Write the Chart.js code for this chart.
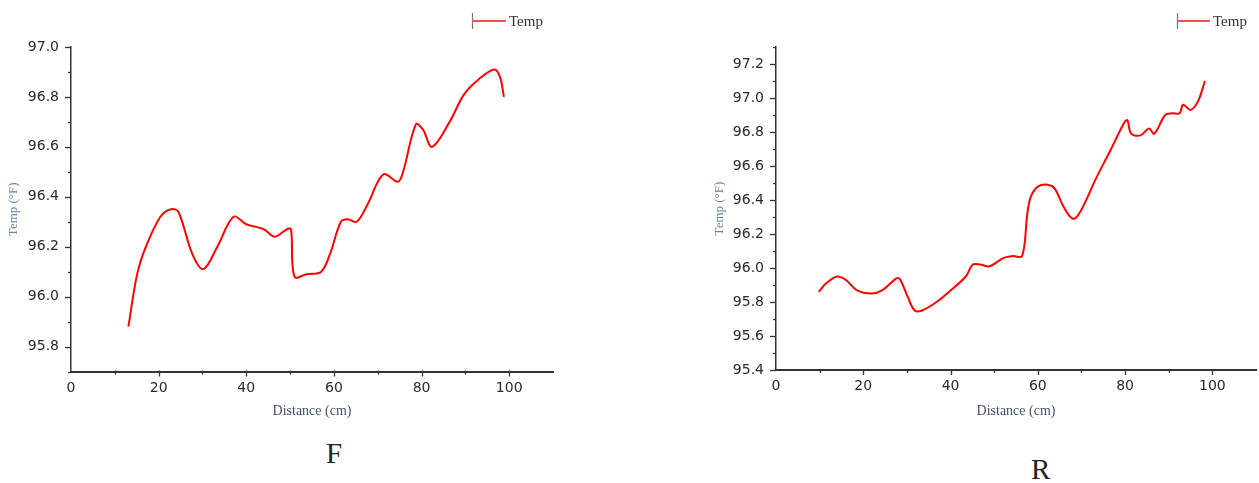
<!DOCTYPE html>
<html>
<head>
<meta charset="utf-8">
<script src="https://cdn.jsdelivr.net/npm/chart.js@4.4.0/dist/chart.umd.min.js"></script>
<style>
  html, body { margin: 0; padding: 0; background: #fff; width: 1259px; height: 483px; overflow: hidden; }
  canvas { position: absolute; top: 0; }
  #chartF { left: 0; width: 600px; height: 430px; }
  #chartR { left: 690px; width: 569px; height: 430px; }
  .panel { position: absolute; font-family: "Liberation Serif", "Times New Roman", serif; font-size: 29px; line-height: 29px; color: #222; }
</style>
</head>
<body>
<canvas id="chartF" width="600" height="430"></canvas>
<canvas id="chartR" width="569" height="430"></canvas>
<div class="panel" style="left:326px; top:439px;">F</div>
<div class="panel" style="left:1031px; top:455px;">R</div>
<script>
// Panel F: temperature along the distance
const fDistance = [13.1, 15.1, 17.1, 20.4, 22.8, 24.5, 27.7, 30.2, 33.4, 37.1, 40.0, 44.0, 46.5, 49.3, 50.2, 51.0, 53.8, 57.1, 59.1, 61.6, 63.2, 65.2, 67.7, 71.3, 74.6, 75.8, 78.7, 80.3, 82.4, 86.4, 89.7, 93.0, 96.6, 97.9, 98.8];
const fTemp     = [95.88, 96.09, 96.20, 96.32, 96.35, 96.34, 96.17, 96.11, 96.20, 96.32, 96.29, 96.27, 96.24, 96.27, 96.27, 96.08, 96.09, 96.10, 96.17, 96.30, 96.31, 96.30, 96.37, 96.49, 96.46, 96.50, 96.69, 96.67, 96.60, 96.70, 96.81, 96.87, 96.91, 96.88, 96.80];

// Panel R: temperature along the distance
const rDistance = [9.8, 11.5, 14.0, 16.0, 18.5, 21.9, 24.4, 27.7, 28.5, 30.2, 31.8, 33.5, 36.8, 40.1, 43.5, 45.1, 46.8, 48.9, 52.2, 54.3, 56.4, 57.6, 58.4, 60.1, 62.2, 63.8, 65.9, 68.0, 69.7, 73.4, 76.8, 79.7, 80.5, 81.4, 83.5, 85.5, 86.7, 89.2, 90.8, 92.5, 93.3, 95.0, 96.7, 98.3];
const rTemp     = [95.86, 95.91, 95.95, 95.93, 95.87, 95.85, 95.87, 95.94, 95.93, 95.83, 95.75, 95.75, 95.80, 95.87, 95.95, 96.02, 96.02, 96.01, 96.06, 96.07, 96.07, 96.32, 96.42, 96.48, 96.49, 96.47, 96.36, 96.29, 96.33, 96.53, 96.70, 96.85, 96.87, 96.79, 96.78, 96.82, 96.79, 96.90, 96.91, 96.91, 96.96, 96.93, 96.98, 97.10];

// Tick labels
const distanceTicks = [0, 20, 40, 60, 80, 100];
const fTempTicks = [95.8, 96.0, 96.2, 96.4, 96.6, 96.8, 97.0];
const rTempTicks = [95.4, 95.6, 95.8, 96.0, 96.2, 96.4, 96.6, 96.8, 97.0, 97.2];

const seriesName = 'Temp';
const xTitle = 'Distance (cm)';
const yTitle = 'Temp (°F)';

// Axis tick marks (major + minor) and the small legend in the top-right corner
function decorPlugin(cfg) {
  return {
    id: 'decor',
    afterDraw(chart) {
      const ctx = chart.ctx;
      const xs = chart.scales.x, ys = chart.scales.y;
      const area = chart.chartArea;
      ctx.save();
      ctx.strokeStyle = '#333';
      ctx.lineWidth = 1.3;
      // y ticks, every 0.1 (major every 0.2)
      const k0 = Math.round(ys.min * 10), k1 = Math.round(ys.max * 10);
      for (let k = k0; k <= k1; k++) {
        const py = Math.round(ys.getPixelForValue(k / 10)) + 0.5;
        const len = (k % 2 === 0) ? 6 : 3;
        ctx.beginPath();
        ctx.moveTo(area.left, py);
        ctx.lineTo(area.left - len, py);
        ctx.stroke();
      }
      // x ticks, every 10 (major every 20)
      for (let v = 10; v <= 100; v += 10) {
        const px = Math.round(xs.getPixelForValue(v)) + 0.5;
        const len = (v % 20 === 0) ? 5 : 3;
        ctx.beginPath();
        ctx.moveTo(px, area.bottom - 1);
        ctx.lineTo(px, area.bottom + len);
        ctx.stroke();
      }
      // legend
      const L = cfg.legend;
      ctx.strokeStyle = '#777';
      ctx.lineWidth = 1.2;
      ctx.beginPath();
      ctx.moveTo(L.x + 0.5, L.y - 8);
      ctx.lineTo(L.x + 0.5, L.y + 8);
      ctx.stroke();
      ctx.strokeStyle = '#ff5050';
      ctx.lineWidth = 2;
      ctx.beginPath();
      ctx.moveTo(L.x, L.y);
      ctx.lineTo(L.x + L.len, L.y);
      ctx.stroke();
      ctx.fillStyle = '#333';
      ctx.font = '15px "Liberation Serif", serif';
      ctx.textBaseline = 'middle';
      ctx.textAlign = 'left';
      ctx.fillText(seriesName, L.x + L.len + 3, L.y + 1);
      ctx.restore();
    }
  };
}

function makeChart(id, distance, temp, opt) {
  const points = distance.map((d, i) => ({ x: d, y: temp[i] }));
  return new Chart(document.getElementById(id), {
    type: 'line',
    data: {
      datasets: [{
        label: seriesName,
        data: points,
        borderColor: '#ff0000',
        borderWidth: 2,
        pointRadius: 0,
        tension: 0.35,
        fill: false
      }]
    },
    options: {
      responsive: false,
      animation: false,
      devicePixelRatio: 1,
      layout: { padding: { top: 47, right: opt.padRight, left: 0, bottom: 0 } },
      plugins: { legend: { display: false }, tooltip: { enabled: false } },
      scales: {
        x: {
          type: 'linear',
          min: 0, max: 110,
          afterFit(s) { s.height = opt.xHeight; },
          afterBuildTicks(s) { s.ticks = distanceTicks.map(v => ({ value: v })); },
          grid: { display: false, drawTicks: false },
          border: { display: true, color: '#333', width: 2 },
          ticks: {
            autoSkip: false, maxRotation: 0, padding: 8,
            color: '#2a2a2a',
            font: { family: '"DejaVu Sans", sans-serif', size: 14 },
            callback: v => String(v)
          },
          title: {
            display: true, text: xTitle, color: '#44546a',
            font: { family: '"Liberation Serif", serif', size: 14 },
            padding: { top: 0, bottom: 10.6 }
          }
        },
        y: {
          type: 'linear',
          min: opt.yMin, max: opt.yMax,
          afterFit(s) { s.width = opt.yWidth; },
          afterBuildTicks(s) { s.ticks = opt.yTicks.map(v => ({ value: v })); },
          grid: { display: false, drawTicks: false },
          border: { display: true, color: '#333', width: 1.5 },
          ticks: {
            autoSkip: false, padding: 12,
            color: '#2a2a2a',
            font: { family: '"DejaVu Sans", sans-serif', size: 14 },
            callback: v => Number(v).toFixed(1)
          },
          title: {
            display: true, text: yTitle, color: '#6a84a0',
            font: { family: '"Liberation Serif", serif', size: 13 },
            padding: { top: opt.yTitlePad, bottom: 0 }
          }
        }
      }
    },
    plugins: [decorPlugin(opt)]
  });
}

makeChart('chartF', fDistance, fTemp, {
  yMin: 95.7, yMax: 97.0, yTicks: fTempTicks,
  yWidth: 71, padRight: 47, xHeight: 58.5, yTitlePad: 6,
  legend: { x: 472, y: 21, len: 34 }
});

makeChart('chartR', rDistance, rTemp, {
  yMin: 95.4, yMax: 97.3, yTicks: rTempTicks,
  yWidth: 86, padRight: 3, xHeight: 60, yTitlePad: 22,
  legend: { x: 487, y: 21, len: 33 }
});
</script>
</body>
</html>
